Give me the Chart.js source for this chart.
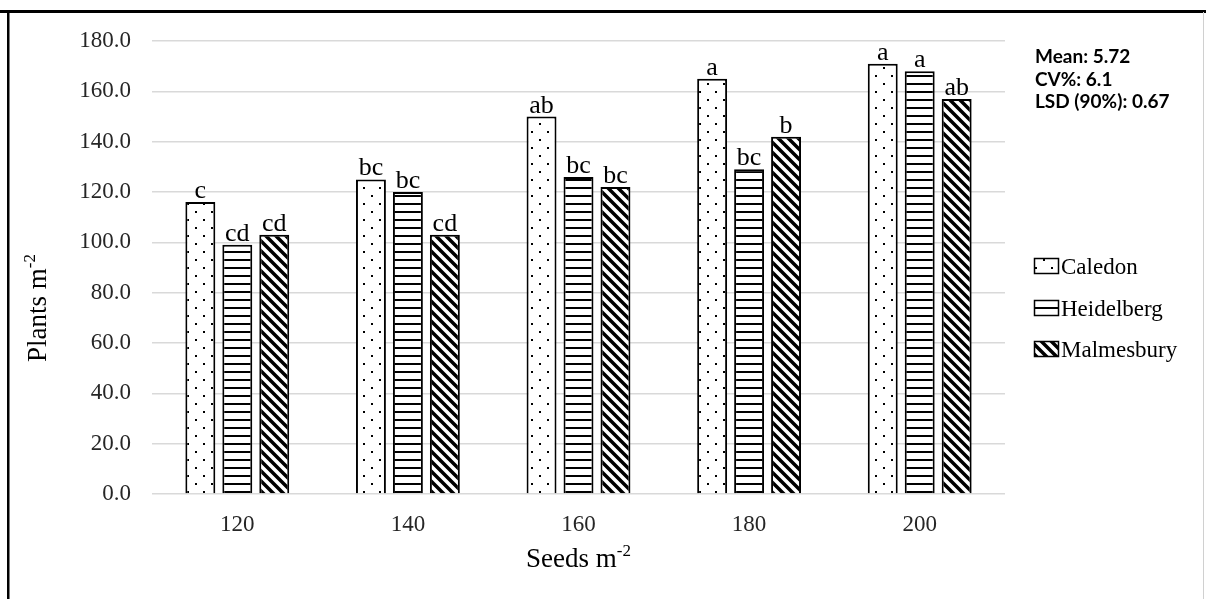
<!DOCTYPE html>
<html>
<head>
<meta charset="utf-8">
<script src="https://cdn.jsdelivr.net/npm/chart.js@4"></script>
<style>
  html, body { margin: 0; padding: 0; background: #fff; }
  canvas { display: block; }
</style>
</head>
<body>
<canvas id="chart" width="1206" height="599"></canvas>
<script>
// data
const categories = ['120', '140', '160', '180', '200'];
const caledon = [116, 125, 150, 165, 171];
const heidelberg = [99, 120, 126, 129, 168];
const malmesbury = [103, 103, 122, 142, 157];
const caledonLetters = ['c', 'bc', 'ab', 'a', 'a'];
const heidelbergLetters = ['cd', 'bc', 'bc', 'bc', 'a'];
const malmesburyLetters = ['cd', 'cd', 'bc', 'b', 'ab'];
const seriesNames = ['Caledon', 'Heidelberg', 'Malmesbury'];
const statLines = ['Mean: 5.72', 'CV%: 6.1', 'LSD (90%): 0.67'];

const serif = '"Liberation Serif", "Times New Roman", serif';

// fill patterns like the Excel ones
function makePattern(kind) {
  const c = document.createElement('canvas');
  const g = c.getContext('2d');
  if (kind === 'dots') {
    c.width = 16; c.height = 16;
    g.fillStyle = '#fff'; g.fillRect(0, 0, 16, 16);
    g.fillStyle = '#000';
    g.fillRect(3, 3, 2, 2);
    g.fillRect(11, 11, 2, 2);
  } else if (kind === 'hlines') {
    c.width = 8; c.height = 8;
    g.fillStyle = '#fff'; g.fillRect(0, 0, 8, 8);
    g.fillStyle = '#000'; g.fillRect(0, 3, 8, 2);
  } else {
    c.width = 10; c.height = 10;
    g.fillStyle = '#fff'; g.fillRect(0, 0, 10, 10);
    g.strokeStyle = '#000'; g.lineWidth = 3.5;
    g.beginPath();
    for (let k = -1; k <= 1; k++) {
      g.moveTo(-3, -3 + k * 10);
      g.lineTo(13, 13 + k * 10);
    }
    g.stroke();
  }
  return g.createPattern(c, 'repeat');
}

const ctx = document.getElementById('chart').getContext('2d');
const patterns = [makePattern('dots'), makePattern('hlines'), makePattern('diag')];
const letterSets = [caledonLetters, heidelbergLetters, malmesburyLetters];

function drawSup(c, base, sup, x, y, size) {
  c.font = size + 'px ' + serif;
  const w1 = c.measureText(base).width;
  c.font = Math.round(size * 0.62) + 'px ' + serif;
  const w2 = c.measureText(sup).width;
  const x0 = x - (w1 + w2) / 2;
  c.textAlign = 'left';
  c.textBaseline = 'alphabetic';
  c.font = size + 'px ' + serif;
  c.fillText(base, x0, y);
  c.font = Math.round(size * 0.62) + 'px ' + serif;
  c.fillText(sup, x0 + w1, y - size * 0.42);
}

const framePlugin = {
  id: 'frame',
  beforeDraw(chart) {
    const c = chart.ctx;
    c.save();
    c.fillStyle = '#fff';
    c.fillRect(0, 0, chart.width, chart.height);
    c.fillStyle = '#000';
    c.fillRect(0, 10, chart.width, 3);
    c.fillRect(7, 10, 2.5, chart.height);
    c.fillStyle = '#d0d0d0';
    c.fillRect(1203, 12, 1, chart.height);
    c.restore();
  }
};

const lettersPlugin = {
  id: 'letters',
  afterDatasetsDraw(chart) {
    const c = chart.ctx;
    c.save();
    c.fillStyle = '#000';
    c.font = '26px ' + serif;
    c.textAlign = 'center';
    c.textBaseline = 'alphabetic';
    chart.data.datasets.forEach((ds, di) => {
      chart.getDatasetMeta(di).data.forEach((bar, i) => {
        c.fillText(letterSets[di][i], bar.x, bar.y - 4);
      });
    });
    c.restore();
  }
};

const extrasPlugin = {
  id: 'extras',
  afterDraw(chart) {
    const c = chart.ctx;
    const area = chart.chartArea;
    c.save();
    c.fillStyle = '#000';

    // axis titles
    drawSup(c, 'Seeds m', '-2', (area.left + area.right) / 2, 567, 27);
    c.save();
    c.translate(37, 308);
    c.rotate(-Math.PI / 2);
    drawSup(c, 'Plants m', '-2', 0, 9, 27);
    c.restore();

    // stats block
    c.font = 'bold 19px Lato, "Liberation Sans", sans-serif';
    c.textAlign = 'left';
    c.textBaseline = 'alphabetic';
    statLines.forEach((t, i) => c.fillText(t, 1035, 63 + i * 22.5));

    // legend
    const rows = [274, 316, 357];
    chart.data.datasets.forEach((ds, i) => {
      const by = rows[i] - 16;
      c.fillStyle = patterns[i];
      c.fillRect(1034, by, 25, 16);
      c.strokeStyle = '#000';
      c.lineWidth = 1.5;
      c.strokeRect(1034.5, by + 0.5, 24, 15);
      c.fillStyle = '#000';
      c.font = '23px ' + serif;
      c.fillText(seriesNames[i], 1061, rows[i]);
    });
    c.restore();
  }
};

new Chart(ctx, {
  type: 'bar',
  data: {
    labels: categories,
    datasets: [
      { label: seriesNames[0], data: caledon, backgroundColor: patterns[0], borderColor: '#000', borderWidth: 2 },
      { label: seriesNames[1], data: heidelberg, backgroundColor: patterns[1], borderColor: '#000', borderWidth: 2 },
      { label: seriesNames[2], data: malmesbury, backgroundColor: patterns[2], borderColor: '#000', borderWidth: 2 }
    ]
  },
  options: {
    responsive: false,
    animation: false,
    devicePixelRatio: 1,
    layout: { padding: { left: 10, right: 201, top: 41, bottom: 0 } },
    datasets: { bar: { categoryPercentage: 0.65, barPercentage: 0.81 } },
    plugins: { legend: { display: false }, tooltip: { enabled: false } },
    scales: {
      x: {
        grid: { display: false },
        border: { display: false },
        ticks: { font: { family: serif, size: 23 }, color: '#262626', padding: 9 },
        afterFit: s => { s.height = 105; }
      },
      y: {
        min: 0,
        max: 180,
        ticks: {
          stepSize: 20,
          callback: v => v.toFixed(1),
          font: { family: serif, size: 23 },
          color: '#262626',
          padding: 21
        },
        grid: { color: '#d9d9d9', lineWidth: 1.5, drawTicks: false },
        border: { display: false },
        afterFit: s => { s.width = 142; }
      }
    }
  },
  plugins: [framePlugin, lettersPlugin, extrasPlugin]
});
</script>
</body>
</html>
